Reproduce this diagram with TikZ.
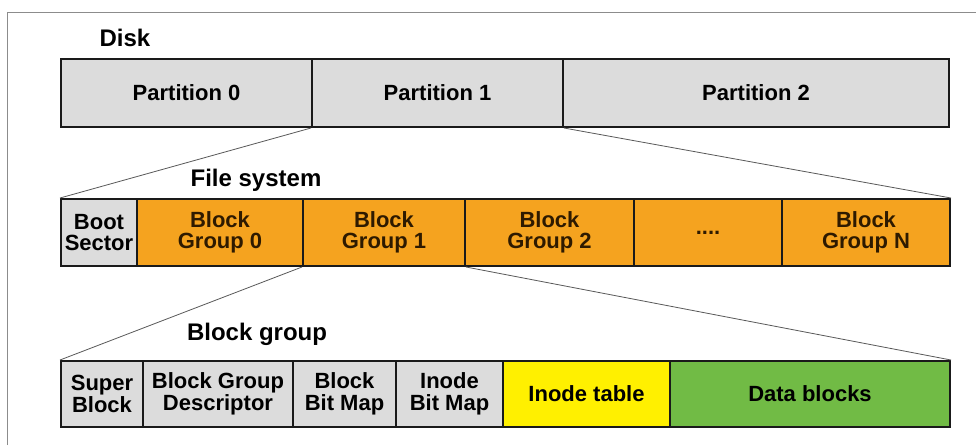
\documentclass[tikz,border=0pt]{standalone}
\usepackage{fontspec}
\setmainfont{Liberation Sans}
\definecolor{cellgray}{HTML}{DCDCDC}
\definecolor{cellorange}{HTML}{F5A31F}
\definecolor{cellyellow}{HTML}{FFF000}
\definecolor{cellgreen}{HTML}{71BB45}
\definecolor{edgedark}{HTML}{1A1A1A}
\definecolor{framegray}{HTML}{8C8C8C}
\definecolor{browntext}{HTML}{2E1A00}
\tikzset{
  cell/.style={draw=edgedark, line width=2pt, inner sep=0pt, align=center,
    font=\fontsize{22}{21.5}\selectfont\bfseries},
  graycell/.style={cell, fill=cellgray},
  orangecell/.style={cell, fill=cellorange, text=browntext},
  rowlabel/.style={inner sep=0pt, font=\fontsize{24}{24}\selectfont\bfseries},
  zoomline/.style={draw=black!65, line width=0.8pt}
}
\begin{document}
\begin{tikzpicture}[x=1pt,y=-1pt]
  \useasboundingbox (0,0) rectangle (976,445);
  \fill[white] (0,0) rectangle (976,445);
  % outer frame (open to the right and bottom)
  \draw[framegray, line width=1pt] (7.5,445) -- (7.5,12.5) -- (976,12.5);

  % disk with its partitions
  \node[rowlabel] (disklbl) at (125,38) {Disk};
  \node[graycell, minimum width=251pt, minimum height=68pt] (p0) at (186.5,93) {Partition 0};
  \node[graycell, minimum width=251pt, minimum height=68pt] (p1) at (437.5,93) {Partition 1};
  \node[graycell, minimum width=386pt, minimum height=68pt] (p2) at (756,93) {Partition 2};

  % file system inside partition 1
  \node[rowlabel] (fslbl) at (256,180) {File system};
  \node[graycell, minimum width=76pt, minimum height=67pt] (boot) at (99,232.5) {Boot\\Sector};
  \node[orangecell, minimum width=166pt, minimum height=67pt] (bg0) at (220,232.5) {Block\\Group 0};
  \node[orangecell, minimum width=162pt, minimum height=67pt] (bg1) at (384,232.5) {Block\\Group 1};
  \node[orangecell, minimum width=169pt, minimum height=67pt] (bg2) at (549.5,232.5) {Block\\Group 2};
  \node[orangecell, minimum width=148pt, minimum height=67pt] (dots) at (708,232.5) {....};
  \node[orangecell, minimum width=168pt, minimum height=67pt] (bgN) at (866,232.5) {Block\\Group N};

  % layout of one block group
  \node[rowlabel] (bglbl) at (257,334) {Block group};
  \node[graycell, minimum width=82pt, minimum height=66pt] (sb) at (102,394) {Super\\Block};
  \node[graycell, minimum width=150pt, minimum height=66pt] (bgd) at (218,394) {Block Group\\Descriptor};
  \node[graycell, minimum width=103pt, minimum height=66pt] (bbm) at (344.5,394) {Block\\Bit Map};
  \node[graycell, minimum width=107pt, minimum height=66pt] (ibm) at (449.5,394) {Inode\\Bit Map};
  \node[cell, fill=cellyellow, minimum width=167pt, minimum height=66pt] (itab) at (586.5,394) {Inode table};
  \node[cell, fill=cellgreen, minimum width=280pt, minimum height=66pt] (data) at (810,394) {Data blocks};

  % zoom-in lines
  \draw[zoomline] (p1.south west) -- (boot.north west);
  \draw[zoomline] (p1.south east) -- (bgN.north east);
  \draw[zoomline] (bg1.south west) -- (sb.north west);
  \draw[zoomline] (bg1.south east) -- (data.north east);
\end{tikzpicture}
\end{document}
